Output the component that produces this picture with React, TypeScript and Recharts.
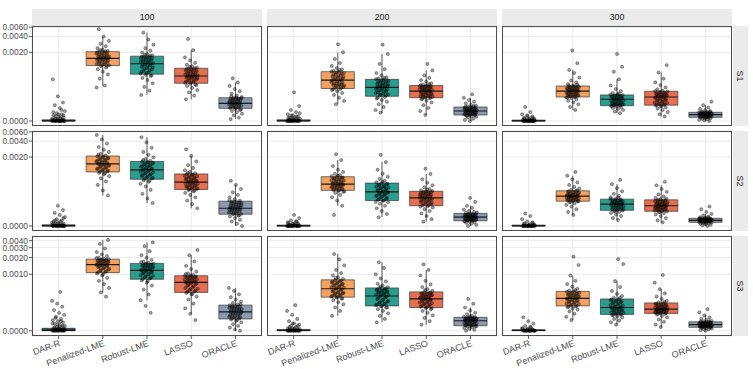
import React from 'react';
import {
  ComposedChart,
  Scatter,
  XAxis,
  YAxis,
  CartesianGrid,
  ReferenceArea,
  ReferenceLine,
} from 'recharts';

const sizes = ['100', '200', '300'];
const scenarios = ['S1', 'S2', 'S3'];
const methods = ['DAR-R', 'Penalized-LME', 'Robust-LME', 'LASSO', 'ORACLE'];
const methodColors = ['#264653', '#F4A261', '#2A9D8F', '#E76F51', '#8D99AE'];

// y-axis breaks (the axis is pseudo-log: asinh(x / 2e-4))
const ticksS12 = [0, 0.002, 0.004, 0.006];
const ticksS3 = [0, 0.001, 0.002, 0.003, 0.004];

// all values below are in units of 1e-5
// box stats per method: [q1, median, q3]
const S1_100_BOX = [[0, 0.2, 1], [112, 154, 206], [76, 121, 169], [50, 70, 99], [11.6, 17, 24]];
const S1_200_BOX = [[0, 0.2, 1], [39, 58, 85], [26, 41, 60], [24, 34, 45], [5.3, 9, 13]];
const S1_300_BOX = [[0, 0.2, 0.8], [25, 34, 44], [14.4, 22, 28], [15, 25, 34], [3.2, 5.6, 7.8]];
const S2_100_BOX = [[0, 0.2, 1], [104, 148, 209], [75, 114, 165], [47, 66, 95], [10.7, 17, 26]];
const S2_200_BOX = [[0, 0.2, 0.8], [45, 60, 84], [27, 42, 63], [20, 31, 43], [4.6, 8, 11.5]];
const S2_300_BOX = [[0, 0.2, 0.8], [26, 34, 44], [14.7, 22, 29], [13.7, 20, 28], [3.2, 5, 6.8]];
const S3_100_BOX = [[0, 0.3, 2], [107, 149, 187], [81, 118, 157], [46, 71, 94], [10, 17, 25]];
const S3_200_BOX = [[0, 0.2, 1], [37, 54, 79], [24, 39, 56], [22, 34, 47], [4.1, 8.4, 11.5]];
const S3_300_BOX = [[0, 0.2, 0.8], [24, 35, 48], [14.4, 22, 34], [15.4, 20, 28], [2.8, 5, 7.4]];

// jittered replicate errors per method
const S1_100_PTS = [
  [0, 0, 0, 0, 0, 0, 0, 0, 0, 0, 0.5, 1, 1, 1, 2, 2, 3, 4, 5, 6, 7, 9, 12, 15, 18, 26, 60, 0, 0, 0, 0, 0.5, 1, 1.5, 2, 3, 4, 5, 6, 8, 10],
  [41, 45, 62, 75, 85, 95, 102, 108, 113, 118, 124, 130, 136, 142, 148, 153, 156, 162, 168, 174, 182, 190, 198, 204, 212, 225, 240, 262, 290, 330, 400, 550, 110, 115, 121, 127, 133, 139, 145, 150, 155, 159, 165, 171, 178, 186, 194, 201, 210, 220],
  [28, 35, 42, 50, 58, 64, 70, 74, 78, 83, 88, 94, 100, 106, 112, 118, 124, 130, 136, 142, 149, 156, 162, 168, 175, 185, 198, 215, 240, 280, 350, 474, 72, 80, 85, 91, 97, 103, 109, 115, 121, 127, 133, 139, 145, 152, 159, 165, 172, 180],
  [22, 27, 32, 36, 40, 44, 47, 49, 51, 54, 57, 60, 63, 66, 68, 70, 72, 75, 78, 82, 86, 90, 94, 98, 102, 108, 116, 126, 140, 160, 220, 360, 46, 52, 55, 58, 61, 64, 67, 69, 71, 73, 76, 80, 84, 88, 92, 96, 100, 105],
  [1.7, 3, 5, 6.5, 8, 9, 10, 11, 12, 12.5, 13.5, 14.5, 15.5, 16.5, 17, 17.5, 18.5, 19.5, 20.5, 21, 22, 22.5, 23, 24, 25, 27, 30, 34, 38, 44, 52, 63, 10.5, 12.2, 13, 14, 15, 16, 16.8, 17.2, 18, 19, 20, 21.5, 22.2, 23.5, 24.5, 26],
];
const S1_200_PTS = [
  [0, 0, 0, 0, 0, 0, 0, 0, 0, 0, 1, 1, 1, 2, 2, 3, 3, 4, 5, 6, 8, 10, 14, 32, 0, 0, 0, 0, 0.5, 1, 1.5, 2, 3, 4, 5, 7],
  [16, 20, 24, 28, 31, 34, 36, 38, 40, 42, 44, 46, 48, 50, 53, 56, 59, 62, 65, 68, 72, 76, 80, 84, 88, 94, 100, 110, 125, 150, 200, 285, 37, 41, 43, 45, 47, 49, 51.5, 54.5, 57.5, 60.5, 63.5, 66.5, 70, 74, 78, 82, 86, 91],
  [7.4, 10, 13, 16, 19, 21, 23, 25, 27, 28.5, 30, 32, 34, 36, 38, 40, 42, 44, 46, 48.5, 51, 53.5, 56, 59, 62, 66, 72, 80, 95, 120, 186, 280, 24, 27.5, 29, 31, 33, 35, 37, 39, 41, 43, 45, 47, 50, 52.5, 55, 57.5, 61, 64],
  [5.3, 9, 12, 15, 18, 20, 22, 23.5, 24.5, 25.5, 27, 28, 29.5, 31, 32.5, 34, 35, 36.5, 38, 39.5, 41, 42, 43.5, 45, 47, 50, 54, 58, 64, 72, 90, 120, 22.5, 24, 25, 26.5, 27.5, 29, 30, 31.5, 33, 34.5, 36, 37.5, 39, 40.5, 42.5, 44, 46, 48],
  [0, 1, 2, 3, 3.8, 4.4, 4.8, 5.2, 5.6, 6, 6.5, 7, 7.5, 8, 8.5, 9, 9.3, 9.8, 10.3, 10.8, 11.3, 11.8, 12.3, 12.9, 13.5, 14.5, 15.5, 17, 19, 21, 24, 29, 4.6, 5.4, 5.8, 6.3, 6.8, 7.3, 7.8, 8.3, 8.8, 9.5, 10, 10.6, 11, 11.6, 12.1, 12.6, 13.2, 14],
];
const S1_300_PTS = [
  [0, 0, 0, 0, 0, 0, 0, 0, 0, 0, 0, 0, 1, 1, 1, 2, 2, 3, 4, 5, 6, 8, 13, 0, 0, 0, 0, 0.5, 1, 1.5, 2, 3, 4],
  [10, 13, 16, 18, 20, 22, 23.5, 24.5, 25.5, 26.5, 27.5, 28.5, 29.5, 30.5, 32, 33.5, 35, 36, 37.5, 38.5, 39.5, 41, 42, 43.5, 45, 48, 52, 57, 65, 80, 92, 124, 216, 24, 25, 26, 27, 28, 29, 30, 31, 31.5, 33, 34, 35.5, 36.5, 38, 39, 40, 41.5, 43, 44.5, 47],
  [7, 8.5, 10, 11, 12, 13, 13.6, 14.2, 14.8, 15.4, 16, 16.8, 17.5, 18.5, 19.5, 20.5, 21.5, 22.5, 23.3, 24, 25, 26, 27, 27.8, 29, 31, 34, 38, 45, 60, 85, 106, 186, 13.8, 14.5, 15.2, 16, 16.5, 17, 18, 19, 20, 21, 22, 23, 24.5, 25.5, 26.5, 27.5, 28.5, 30],
  [4, 6, 8, 10, 11.5, 12.5, 13.8, 14.6, 15.5, 16.5, 17.5, 18.8, 20, 21.2, 22.5, 24, 25.5, 26.5, 27.5, 28.5, 29.5, 31, 32.3, 33.5, 35, 37.5, 41, 46, 52, 62, 82, 114, 14, 15.2, 16, 17, 18, 19.5, 21, 22, 23, 24.5, 25, 26, 27, 28, 29, 30.5, 32, 34],
  [0, 0.5, 1, 1.5, 2, 2.5, 2.9, 3.1, 3.4, 3.7, 4, 4.3, 4.6, 5, 5.3, 5.6, 5.9, 6.2, 6.5, 6.8, 7, 7.3, 7.5, 7.7, 8, 8.5, 9, 10, 11, 12.5, 15, 19, 3, 3.5, 3.8, 4.1, 4.4, 4.8, 5.1, 5.4, 5.7, 6, 6.3, 6.6, 6.9, 7.2, 7.6, 8.2],
];
const S2_100_PTS = [
  [0, 0, 0, 0, 0, 0, 0, 0, 0, 0, 1, 1, 2, 2, 3, 4, 5, 6, 8, 10, 12, 15, 20, 0, 0, 0, 0, 0.5, 1, 1.5, 2, 3, 4, 5, 7],
  [35, 45, 58, 68, 78, 86, 94, 100, 107, 112, 118, 124, 130, 136, 142, 147, 152, 158, 165, 172, 180, 188, 197, 206, 215, 230, 250, 275, 310, 360, 430, 524, 98, 105, 110, 115, 121, 127, 133, 139, 145, 150, 155, 161, 168, 176, 184, 192, 201, 220],
  [23.5, 30, 38, 46, 54, 61, 67, 72, 78, 82, 87, 92, 97, 102, 108, 113, 118, 124, 130, 136, 143, 150, 157, 163, 170, 182, 198, 220, 250, 300, 380, 474, 70, 76, 80, 85, 90, 95, 100, 105, 111, 116, 121, 127, 133, 140, 147, 154, 160, 175],
  [17, 22, 27, 32, 36, 40, 43, 46, 48, 50, 53, 55, 58, 61, 63, 66, 69, 72, 75, 78, 82, 86, 90, 94, 98, 104, 112, 124, 140, 165, 210, 280, 44, 47, 49, 52, 54, 57, 60, 62, 65, 67, 70, 73, 77, 80, 84, 88, 92, 100],
  [0, 2, 4, 5.5, 7, 8.5, 9.5, 10.5, 11, 12, 13, 14, 15, 16, 16.5, 17, 18, 19, 20, 21, 22, 23.5, 24.5, 25.5, 27, 29, 32, 36, 41, 48, 58, 70, 9.5, 11.5, 12.5, 13.5, 14.5, 15.5, 16, 17.5, 18.5, 19.5, 20.5, 21.5, 23, 24, 25, 27],
];
const S2_200_PTS = [
  [0, 0, 0, 0, 0, 0, 0, 0, 0, 0, 0, 0, 1, 1, 2, 2, 3, 4, 5, 7, 10, 0, 0, 0, 0, 0.5, 1, 1.5, 2, 3, 4],
  [10, 20, 27, 32, 36, 40, 42, 44, 46, 48, 50, 52, 54, 56, 58, 60, 62, 65, 68, 71, 74, 77, 80, 83, 86, 90, 96, 104, 115, 135, 175, 226, 43, 45, 47, 49, 51, 53, 55, 57, 59, 61, 63, 66, 69, 72, 75, 78, 81, 88],
  [7.8, 11, 14, 17, 20, 22.5, 24.5, 26.5, 28, 30, 32, 34, 36, 38, 40, 42, 44, 46.5, 49, 51.5, 54, 57, 60, 62.5, 65, 70, 76, 84, 96, 115, 160, 220, 25, 27, 29, 31, 33, 35, 37, 39, 41, 43, 45, 48, 50, 53, 55, 58, 61, 67],
  [3.8, 6, 9, 11.5, 14, 16, 18, 19.5, 20.5, 22, 23.5, 25, 26.5, 28, 29.5, 31, 32.5, 34, 35.5, 37, 38.5, 40, 41.5, 42.8, 45, 48, 52, 57, 64, 75, 95, 120, 19, 21, 22.5, 24, 25.5, 27, 28.5, 30, 31.5, 33, 34.5, 36, 37.5, 39, 40.5, 42, 44, 47],
  [0, 1, 2, 2.8, 3.4, 3.9, 4.2, 4.5, 4.9, 5.3, 5.7, 6.1, 6.5, 7, 7.5, 8, 8.4, 8.8, 9.2, 9.6, 10, 10.4, 10.9, 11.4, 12, 13, 14, 15.5, 17.5, 20, 25, 31, 4.3, 4.7, 5.1, 5.5, 5.9, 6.3, 6.8, 7.2, 7.7, 8.2, 8.6, 9, 9.4, 9.9, 10.5, 11, 12.5],
];
const S2_300_PTS = [
  [0, 0, 0, 0, 0, 0, 0, 0, 0, 0, 0, 0, 1, 1, 2, 3, 4, 6, 9, 11.5, 0, 0, 0, 0, 0.5, 1, 1.5, 2, 3],
  [10, 13, 16, 19, 21, 23, 24.5, 25.5, 26.5, 27.5, 28.5, 29.5, 30.5, 31.5, 32.5, 33.5, 34.5, 35.5, 36.5, 37.5, 39, 40.5, 42, 43.5, 46, 49, 53, 58, 65, 75, 88, 104, 25, 26, 27, 28, 29, 30, 31, 32, 33, 34, 35, 36, 37, 38, 40, 41.5, 43, 45],
  [5.3, 7, 9, 10.5, 12, 13, 13.8, 14.5, 15, 16, 17, 18, 19, 20, 21, 22, 22.8, 23.5, 24.3, 25, 26, 27, 28, 28.8, 30, 32, 34.5, 38, 43, 50, 60, 73, 14, 15.5, 16.5, 17.5, 18.5, 19.5, 20.5, 21.5, 22.5, 23, 24, 25.5, 26.5, 27.5, 29.5, 31],
  [3.2, 5, 7, 9, 10.5, 11.8, 12.8, 13.5, 14.2, 15, 15.8, 16.6, 17.4, 18.2, 19, 20, 20.8, 21.6, 22.5, 23.4, 24.4, 25.4, 26.4, 27.5, 29, 31, 33.5, 37, 42, 48, 57, 67, 13, 14.5, 15.3, 16.2, 17, 17.8, 18.6, 19.5, 20.4, 21.2, 22, 23, 24, 25, 26, 27, 28.5, 30],
  [0, 0.5, 1, 1.5, 2, 2.5, 2.9, 3.1, 3.3, 3.6, 3.9, 4.1, 4.4, 4.7, 4.9, 5, 5.2, 5.5, 5.8, 6, 6.2, 6.4, 6.6, 6.8, 7.2, 7.8, 8.5, 9.5, 11, 13, 16, 19, 3, 3.4, 3.7, 4, 4.3, 4.6, 4.8, 5.1, 5.3, 5.6, 5.9, 6.1, 6.3, 6.5, 6.9, 7.5],
];
const S3_100_PTS = [
  [0, 0, 0, 0, 0, 0, 0, 0, 0.5, 1, 1, 2, 2, 3, 3, 4, 5, 6, 7, 8, 9, 10, 12, 14, 16, 19, 23, 27, 31, 47, 0, 0, 0, 0, 0.5, 1, 1.5, 2, 3, 4, 5, 6, 8, 11],
  [38, 46, 56, 66, 76, 86, 95, 103, 110, 116, 122, 128, 134, 140, 145, 149, 153, 158, 163, 168, 173, 178, 182, 186, 192, 200, 212, 228, 250, 290, 350, 412, 100, 108, 113, 119, 125, 131, 137, 143, 147, 151, 155, 160, 166, 171, 176, 180, 184, 195],
  [16, 24, 32, 42, 52, 62, 70, 77, 84, 89, 94, 99, 104, 109, 114, 118, 122, 127, 132, 137, 142, 147, 152, 156, 162, 170, 182, 198, 220, 260, 320, 373, 75, 82, 86, 91, 96, 101, 106, 111, 116, 120, 125, 130, 135, 140, 145, 150, 155, 165],
  [9, 15, 21, 27, 33, 38, 42, 45, 48, 51, 54, 58, 62, 66, 69, 71, 74, 77, 80, 83, 86, 89, 92, 94, 98, 104, 112, 124, 142, 170, 220, 273, 43, 47, 50, 53, 56, 60, 64, 68, 70, 72, 75, 78, 81, 85, 88, 91, 95, 101],
  [0, 1, 2.5, 4, 5.5, 7, 8.3, 9.5, 10.5, 11.3, 12, 13, 14, 15, 16, 17, 18, 19, 20, 21, 22, 23, 24, 24.8, 26, 28, 30, 33, 37, 42, 49, 56, 9, 10.5, 11.5, 12.5, 13.5, 14.5, 15.5, 16.5, 17.5, 18.5, 19.5, 20.5, 21.5, 22.5, 23.5, 26],
];
const S3_200_PTS = [
  [0, 0, 0, 0, 0, 0, 0, 0, 0, 0, 1, 1, 2, 2, 3, 4, 5, 6, 8, 10, 14, 18, 25, 0, 0, 0, 0, 0.5, 1, 1.5, 2, 3, 4, 6],
  [13, 18, 22, 26, 29, 32, 34.5, 36.5, 38, 40, 42, 44, 46, 48, 51, 54, 56.5, 59, 62, 65, 68, 71, 74.5, 78, 82, 88, 95, 105, 120, 145, 185, 231, 35, 37, 39, 41, 43, 45, 47, 49.5, 52.5, 55, 57.5, 60.5, 63.5, 66.5, 70, 73, 77, 85],
  [7, 10, 13, 15.5, 18, 20, 22, 23.5, 25, 26.5, 28, 30, 32, 34, 36.5, 39, 41, 43, 45, 47, 49, 51, 53, 55.5, 58, 62, 67, 74, 84, 100, 130, 164, 22, 24, 25.5, 27, 29, 31, 33, 35, 37.5, 40, 42, 44, 46, 48, 50, 52, 54.5, 60],
  [5, 8, 11, 13.5, 16, 18, 20, 21.5, 23, 24.5, 26, 27.5, 29, 30.5, 32, 34, 35.5, 37, 38.5, 40, 41.5, 43, 44.5, 46.5, 49, 53, 58, 65, 76, 95, 120, 151, 21, 22.5, 24, 25.5, 27, 28.5, 30, 31.5, 33, 35, 36.5, 38, 39.5, 41, 42.5, 44, 46, 51],
  [0, 0.8, 1.6, 2.3, 2.9, 3.4, 3.8, 4, 4.5, 5, 5.5, 6, 6.6, 7.2, 7.8, 8.4, 8.8, 9.2, 9.6, 10, 10.4, 10.8, 11.1, 11.4, 12, 13, 14.5, 16, 18.5, 22, 27, 34, 3.6, 4.2, 4.7, 5.2, 5.8, 6.3, 6.9, 7.5, 8.1, 8.6, 9, 9.4, 9.8, 10.2, 10.6, 11, 11.7, 12.5],
];
const S3_300_PTS = [
  [0, 0, 0, 0, 0, 0, 0, 0, 0, 0, 0, 0, 1, 1, 2, 3, 4, 6, 8, 11.5, 0, 0, 0, 0, 0.5, 1, 1.5, 2, 3],
  [9, 12, 15, 17.5, 19.5, 21, 22.5, 23.5, 25, 26.5, 28, 29.5, 31, 32.5, 34, 35, 36.5, 38, 39.5, 41, 42.5, 44, 45.5, 47.5, 50, 54, 59, 66, 76, 95, 147, 207, 23, 24, 25.5, 27, 28.5, 30, 31.5, 33, 34.5, 35.5, 37, 38.5, 40, 42, 43.5, 45, 47, 51],
  [5, 7, 8.5, 10, 11.5, 12.5, 13.5, 14.2, 15, 16, 17, 18, 19, 20, 21, 22, 23, 24.5, 26, 27.5, 29, 30.5, 32, 33.5, 36, 39, 43, 49, 58, 75, 153, 187, 13.8, 14.6, 15.5, 16.5, 17.5, 18.5, 19.5, 20.5, 21.5, 22.5, 23.5, 25, 27, 28.5, 30, 31.5, 33, 36],
  [3, 5, 7.5, 9.5, 11.5, 13, 14.2, 15, 15.8, 16.4, 17, 17.6, 18.2, 18.8, 19.4, 20, 20.8, 21.6, 22.4, 23.4, 24.4, 25.4, 26.4, 27.6, 29, 31, 34, 38, 44, 53, 70, 97, 15, 15.6, 16.2, 16.8, 17.4, 18, 18.6, 19.2, 19.8, 20.4, 21.2, 22, 23, 24, 25, 26, 27, 29.5],
  [0, 0.5, 1, 1.4, 1.8, 2.2, 2.5, 2.7, 3, 3.3, 3.6, 3.9, 4.2, 4.5, 4.8, 5, 5.3, 5.6, 5.9, 6.2, 6.5, 6.8, 7.1, 7.3, 7.8, 8.4, 9.2, 10.2, 11.5, 13.5, 16.5, 20, 2.6, 2.9, 3.2, 3.5, 3.8, 4.1, 4.4, 4.7, 4.9, 5.2, 5.5, 5.8, 6.1, 6.4, 6.7, 7, 7.4, 8],
];

const UNIT = 1e-5;
const SIGMA = 1e-4;
const tr = (v: number) => Math.asinh(v / (2 * SIGMA));
const untr = (t: number) => 2 * SIGMA * Math.sinh(t);

const BOXES: Record<string, number[][][]> = {
  S1: [S1_100_BOX, S1_200_BOX, S1_300_BOX],
  S2: [S2_100_BOX, S2_200_BOX, S2_300_BOX],
  S3: [S3_100_BOX, S3_200_BOX, S3_300_BOX],
};
const POINTS: Record<string, number[][][]> = {
  S1: [S1_100_PTS, S1_200_PTS, S1_300_PTS],
  S2: [S2_100_PTS, S2_200_PTS, S2_300_PTS],
  S3: [S3_100_PTS, S3_200_PTS, S3_300_PTS],
};
const TICKS: Record<string, number[]> = { S1: ticksS12, S2: ticksS12, S3: ticksS3 };
// transformed y range of each row (ggplot free_y with 5% expansion)
const DOMAINS: Record<string, [number, number]> = {
  S1: [-0.218, 4.148],
  S2: [-0.217, 4.13],
  S3: [-0.217, 3.88],
};

const FONT = '"Liberation Sans", Arial, Helvetica, sans-serif';
const PANEL_W = 230;
const PANEL_H = 100;
const COL_X = [32, 267, 502];
const ROW_Y = [26, 131, 236];
const AXIS_W = 32;
const AXIS_H = 33;
const PAD = 6; // room above the panel so the top tick label is not clipped
const BOX_HALF = 0.375;
const JITTER = 0.15;

// deterministic spread for jitter positions
const jitter = (k: number) => (((k * 0.6180339887) % 1) - 0.5) * 2 * JITTER;

const Dot = (props: any) => (
  <circle
    cx={props.cx}
    cy={props.cy}
    r={1.6}
    fill="#000"
    fillOpacity={0.38}
    stroke="#000"
    strokeOpacity={0.6}
    strokeWidth={0.5}
  />
);

const XTick = (props: any) => {
  const { x, y, payload } = props;
  return (
    <g transform={`translate(${x},${y})`}>
      <text
        x={0}
        y={0}
        dy={7}
        textAnchor="end"
        transform="rotate(-20)"
        fontSize={9}
        fill="#4D4D4D"
        fontFamily={FONT}
      >
        {methods[payload.value - 1]}
      </text>
    </g>
  );
};

function whiskers(vals: number[], q1: number, q3: number) {
  const t = vals.map((v) => tr(v * UNIT));
  const a = tr(q1 * UNIT);
  const b = tr(q3 * UNIT);
  const iqr = b - a;
  const inside = t.filter((v) => v >= a - 1.5 * iqr && v <= b + 1.5 * iqr);
  return [Math.min(a, ...inside), Math.max(b, ...inside)];
}

function Panel({ row, col }: { row: number; col: number }) {
  const sc = scenarios[row];
  const boxes = BOXES[sc][col];
  const pts = POINTS[sc][col];
  const showY = col === 0;
  const showX = row === 2;
  const w = PANEL_W + (showY ? AXIS_W : 0);
  const h = PAD + PANEL_H + (showX ? AXIS_H : 0);

  const scatter = pts.flatMap((vals, m) =>
    vals.map((v, k) => ({ x: m + 1 + jitter(k + m * 13 + col * 7 + row * 3), y: tr(v * UNIT) }))
  );

  return (
    <div
      style={{
        position: 'absolute',
        left: COL_X[col] - (showY ? AXIS_W : 0),
        top: ROW_Y[row] - PAD,
        width: w,
        height: h,
      }}
    >
      <ComposedChart width={w} height={h} margin={{ top: PAD, right: 0, bottom: 0, left: 0 }}>
        <CartesianGrid stroke="#EBEBEB" strokeWidth={1} />
        <XAxis
          type="number"
          dataKey="x"
          domain={[0.4, 5.6]}
          ticks={[1, 2, 3, 4, 5]}
          allowDataOverflow
          hide={!showX}
          height={AXIS_H}
          axisLine={false}
          tickLine={{ stroke: '#333333', strokeWidth: 0.8 }}
          tickSize={3}
          tickMargin={0}
          interval={0}
          tick={<XTick />}
        />
        <YAxis
          type="number"
          dataKey="y"
          domain={DOMAINS[sc]}
          ticks={TICKS[sc].map(tr)}
          allowDataOverflow
          hide={!showY}
          width={AXIS_W}
          axisLine={false}
          tickLine={{ stroke: '#333333', strokeWidth: 0.8 }}
          tickSize={3}
          tickMargin={1}
          interval={0}
          tick={{ fontSize: 8.4, fill: '#4D4D4D', fontFamily: FONT }}
          tickFormatter={(t: number) => untr(t).toFixed(4)}
        />
        {boxes.map(([q1, med, q3], m) => {
          const [lo, hi] = whiskers(pts[m], q1, q3);
          const x = m + 1;
          return (
            <React.Fragment key={m}>
              <ReferenceLine
                segment={[{ x, y: lo }, { x, y: tr(q1 * UNIT) }]}
                stroke="#333333"
                strokeWidth={0.8}
                ifOverflow="visible"
              />
              <ReferenceLine
                segment={[{ x, y: tr(q3 * UNIT) }, { x, y: hi }]}
                stroke="#333333"
                strokeWidth={0.8}
                ifOverflow="visible"
              />
              <ReferenceArea
                x1={x - BOX_HALF}
                x2={x + BOX_HALF}
                y1={tr(q1 * UNIT)}
                y2={tr(q3 * UNIT)}
                fill={methodColors[m]}
                fillOpacity={1}
                stroke="#333333"
                strokeOpacity={0.85}
                strokeWidth={0.8}
                ifOverflow="visible"
              />
              <ReferenceLine
                segment={[{ x: x - BOX_HALF, y: tr(med * UNIT) }, { x: x + BOX_HALF, y: tr(med * UNIT) }]}
                stroke="#1A1A1A"
                strokeWidth={1.2}
                ifOverflow="visible"
              />
            </React.Fragment>
          );
        })}
        <Scatter data={scatter} shape={<Dot />} isAnimationActive={false} />
      </ComposedChart>
      <div
        style={{
          position: 'absolute',
          left: showY ? AXIS_W : 0,
          top: PAD,
          width: PANEL_W,
          height: PANEL_H,
          boxSizing: 'border-box',
          border: '1px solid #4D4D4D',
          pointerEvents: 'none',
        }}
      />
    </div>
  );
}

export default function App() {
  return (
    <div
      style={{
        position: 'absolute',
        left: 0,
        top: 0,
        width: 753,
        height: 369,
        background: '#FFFFFF',
        fontFamily: FONT,
        overflow: 'hidden',
      }}
    >
      {sizes.map((s, c) => (
        <div
          key={s}
          style={{
            position: 'absolute',
            left: COL_X[c],
            top: 9,
            width: PANEL_W,
            height: 17,
            background: '#EBEBEB',
            color: '#1A1A1A',
            fontSize: 8.8,
            lineHeight: '17px',
            textAlign: 'center',
          }}
        >
          {s}
        </div>
      ))}
      {scenarios.map((s, r) => (
        <div
          key={s}
          style={{
            position: 'absolute',
            left: 733,
            top: ROW_Y[r],
            width: 15,
            height: PANEL_H,
            background: '#EBEBEB',
            color: '#1A1A1A',
            fontSize: 8.8,
            display: 'flex',
            alignItems: 'center',
            justifyContent: 'center',
          }}
        >
          <span style={{ transform: 'rotate(90deg)', display: 'inline-block' }}>{s}</span>
        </div>
      ))}
      {[0, 1, 2].map((r) => [0, 1, 2].map((c) => <Panel key={`${r}-${c}`} row={r} col={c} />))}
    </div>
  );
}
